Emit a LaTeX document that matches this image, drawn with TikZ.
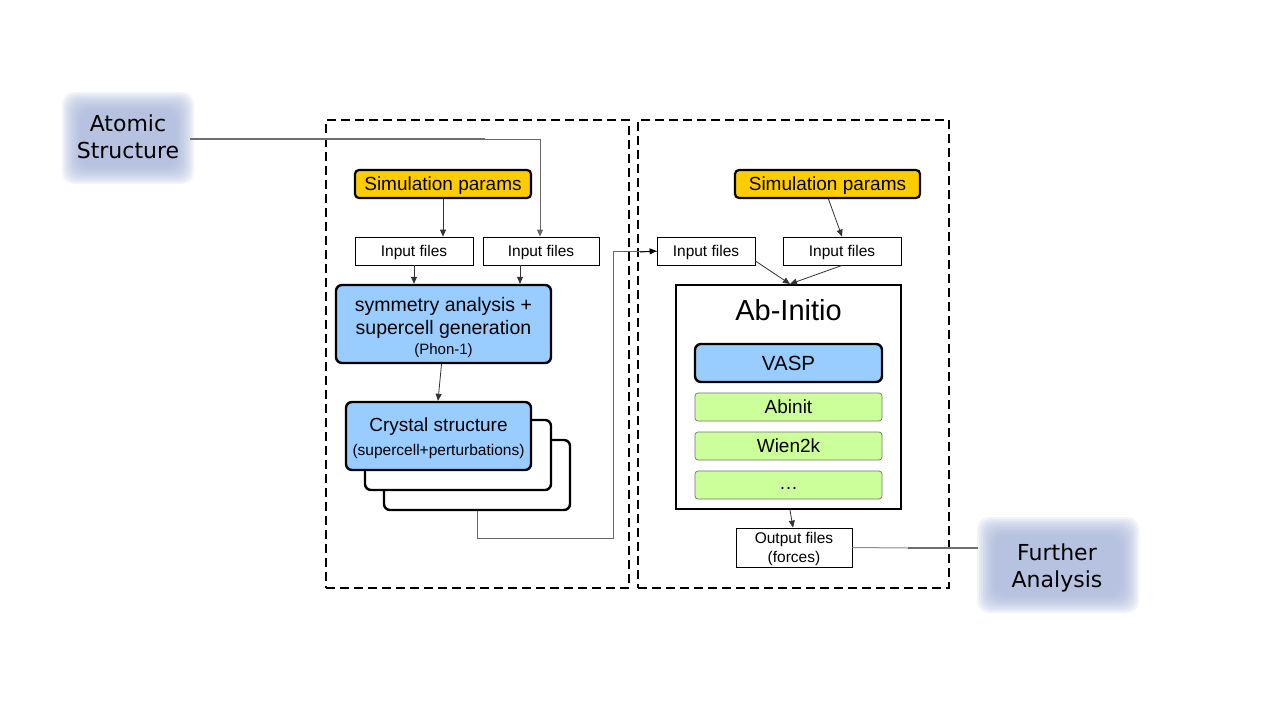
\documentclass[tikz,border=0pt]{standalone}
\usepackage{fontspec}
\setmainfont{Liberation Sans}
\newfontfamily\blobfont{DejaVu Sans}
\usetikzlibrary{arrows.meta}
\definecolor{simyellow}{RGB}{255,204,0}
\definecolor{toolblue}{RGB}{153,204,255}
\definecolor{codegreen}{RGB}{204,255,153}
\definecolor{blobblue}{RGB}{170,184,220}
\definecolor{wiregray}{RGB}{110,110,110}
\tikzset{
  tip/.style={-{Triangle[length=7pt,width=6pt]}},
  flow/.style={draw=black!80, line width=0.8pt, tip},
  filebox/.style={draw=black, line width=0.8pt, fill=white, font=\fontsize{15.5}{18}\selectfont, inner sep=0pt},
  onelinebox/.style={text depth=0pt},
  parambox/.style={draw=black, line width=2.2pt, fill=simyellow, rounded corners=4pt, font=\fontsize{19}{21}\selectfont, inner sep=0pt, text depth=0pt},
  bluebox/.style={draw=black, line width=2.4pt, fill=toolblue, rounded corners=6pt, inner sep=0pt},
  backbox/.style={draw=black, line width=2.4pt, fill=white, rounded corners=6pt, inner sep=0pt},
  greenbox/.style={draw=black!55, line width=0.7pt, fill=codegreen, rounded corners=3pt, font=\fontsize{19}{21}\selectfont, inner sep=0pt, text depth=0pt},
  groupbox/.style={draw=black, line width=2.4pt, dash pattern=on 9pt off 5pt},
  wire/.style={draw=wiregray, line width=2pt},
  thinwire/.style={draw=black!55, line width=1pt},
  blobtext/.style={font=\blobfont\fontsize{22}{27}\selectfont, align=center, text=black},
}
% soft-edged label panel
\newcommand{\softpanel}[5]{% name, cx, cy, w, h
  \foreach \k in {0,...,9}{
    \fill[blobblue, opacity=0.16, rounded corners=12pt]
      ({#2-#4/2-10+2*\k},{#3-#5/2-10+2*\k}) rectangle ({#2+#4/2+10-2*\k},{#3+#5/2+10-2*\k});
  }
  \coordinate (#1) at (#2,#3);
}
\begin{document}
\begin{tikzpicture}[x=1pt,y=-1pt]
\useasboundingbox (0,0) rectangle (1269,715);
\fill[white] (0,0) rectangle (1269,715);

% side panels
\softpanel{atomic}{128}{138}{112}{72}
\node[blobtext] (atomicT) at (128,137) {Atomic\\Structure};
\softpanel{further}{1058}{565}{142}{76}
\node[blobtext] (furtherT) at (1057,568) {Further\\Analysis};

% group frames
\node[groupbox, minimum width=303pt, minimum height=468pt, inner sep=0pt] (leftgroup) at (477.5,354) {};
\node[groupbox, minimum width=311pt, minimum height=468pt, inner sep=0pt] (rightgroup) at (793.5,354) {};

% ---- left group ----
\node[parambox, minimum width=176pt, minimum height=28pt] (simL) at (443,184) {Simulation params};
\node[filebox, onelinebox, minimum width=118pt, minimum height=28pt] (inL1) at (414,251) {Input files};
\node[filebox, onelinebox, minimum width=116pt, minimum height=28pt] (inL2) at (541,251) {Input files};
\node[bluebox, minimum width=215pt, minimum height=78pt] (sym) at (443.5,324) {};
\node[align=center, font=\fontsize{19.5}{23}\selectfont] (symT) at (443.5,327)
  {symmetry analysis +\\supercell generation\\[-3pt]{\fontsize{15}{17}\selectfont(Phon-1)}};

\node[backbox, minimum width=186pt, minimum height=70pt] (cell3) at (477,475) {};
\node[backbox, minimum width=186pt, minimum height=70pt] (cell2) at (458,455) {};
\node[bluebox, minimum width=185pt, minimum height=68pt] (cell1) at (438.5,436) {};
\node[align=center, font=\fontsize{19}{24}\selectfont] (cellT) at (438.5,438.5)
  {Crystal structure\\{\fontsize{15.5}{17}\selectfont(supercell+perturbations)}};

\draw[flow] (simL.south) -- (simL.south |- inL1.north);
\draw[flow] (inL1.south) -- (inL1.south |- sym.north);
\draw[flow] ([xshift=-21pt]inL2.south) -- ([xshift=76.5pt]sym.north);
\draw[flow] ([xshift=-2pt]sym.south) -- ([xshift=-0.5pt]cell1.north);

% ---- right group ----
\node[parambox, minimum width=185pt, minimum height=28pt] (simR) at (827.5,184) {Simulation params};
\node[filebox, onelinebox, minimum width=98pt, minimum height=28pt] (inR1) at (706,251) {Input files};
\node[filebox, onelinebox, minimum width=118pt, minimum height=28pt] (inR2) at (842,251) {Input files};
\node[draw=black, line width=2.2pt, fill=white, minimum width=225pt, minimum height=224pt, inner sep=0pt] (abinitio) at (788.5,397) {};
\node[font=\fontsize{29}{32}\selectfont] (abtitle) at (788.5,310) {Ab-Initio};
\node[bluebox, minimum width=187pt, minimum height=38pt, font=\fontsize{20.5}{23}\selectfont, text depth=0pt] (vasp) at (788.5,363) {VASP};
\node[greenbox, minimum width=187pt, minimum height=28pt] (abinit) at (788.5,407) {Abinit};
\node[greenbox, minimum width=187pt, minimum height=28pt] (wien) at (788.5,446) {Wien2k};
\node[greenbox, minimum width=187pt, minimum height=28pt] (more) at (788.5,485) {\raisebox{-4pt}{\ldots}};
\node[filebox, minimum width=116pt, minimum height=39pt] (outR) at (794,547.5) {};
\node[align=center, font=\fontsize{15.5}{19}\selectfont] (outT) at (794,548.5) {Output files\\(forces)};

\coordinate (abin) at (790,284);
\draw[flow] ([xshift=1pt]simR.south) -- ([xshift=0pt]inR2.north);
\draw[flow] ([yshift=-10pt]inR1.east) -- (abin);
\draw[flow] ([xshift=-0pt]inR2.south) -- (abin);
\draw[flow] ([xshift=1.5pt]abinitio.south) -- ([xshift=-1pt]outR.north);

% ---- wiring between parts ----
\coordinate (wA) at (485,139);
\coordinate (wB) at (908,548);
\draw[wire] (atomic) ++(62,1) -- (wA);
\draw[thinwire, tip, draw=black!60] (wA) -| ([xshift=-1pt]inL2.north);
\draw[thinwire, draw=black!60] (cell3.south) |- (613,538) |- (inR1.west);
\draw[tip, draw=black, line width=1pt] (640,252) -- (inR1.west);
\draw[thinwire, draw=black!45] (outR.east) -- (wB);
\draw[wire] (wB) -- (978,548);
\end{tikzpicture}
\end{document}
